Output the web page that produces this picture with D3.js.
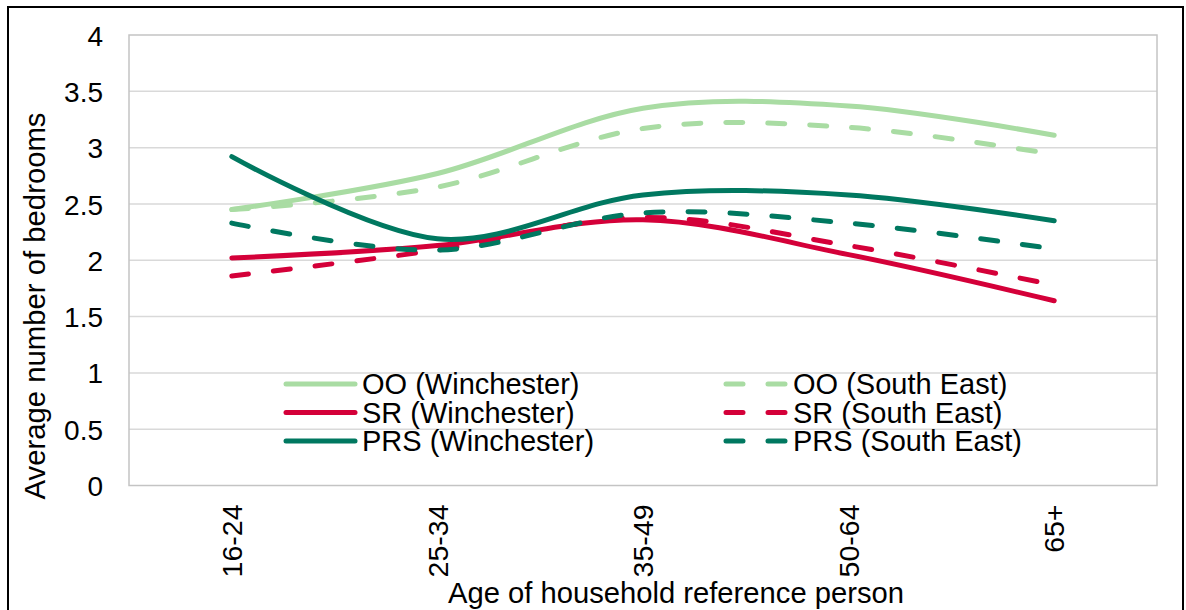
<!DOCTYPE html>
<html>
<head>
<meta charset="utf-8">
<script src="https://cdn.jsdelivr.net/npm/d3@7"></script>
<style>
    body { margin: 0; background: #fff; }
    text { font-family: "Liberation Sans", Arial, sans-serif; fill: #000; }
</style>
</head>
<body>
<div id="chart"></div>
<script>
// bedrooms by age band, Winchester vs South East
var ages = ['16-24', '25-34', '35-49', '50-64', '65+'];
var yTicks = [0, 0.5, 1, 1.5, 2, 2.5, 3, 3.5, 4];

var ooWinchester = [2.45, 2.77, 3.35, 3.37, 3.11];
var ooSouthEast = [2.45, 2.65, 3.17, 3.18, 2.94];
var srWinchester = [2.02, 2.13, 2.36, 2.05, 1.64];
var srSouthEast = [1.86, 2.09, 2.38, 2.13, 1.78];
var prsWinchester = [2.92, 2.19, 2.58, 2.58, 2.35];
var prsSouthEast = [2.33, 2.09, 2.42, 2.33, 2.10];

// excel fills the legend row by row, so this is also the draw order
var series = [
    { name: 'OO (Winchester)', values: ooWinchester, color: '#a9dca3', dashed: false },
    { name: 'OO (South East)', values: ooSouthEast, color: '#a9dca3', dashed: true },
    { name: 'SR (Winchester)', values: srWinchester, color: '#d40039', dashed: false },
    { name: 'SR (South East)', values: srSouthEast, color: '#d40039', dashed: true },
    { name: 'PRS (Winchester)', values: prsWinchester, color: '#007860', dashed: false },
    { name: 'PRS (South East)', values: prsSouthEast, color: '#007860', dashed: true }
];

var width = 1186, height = 610;
var plot = { left: 129, right: 1157, top: 35, bottom: 485.5 };
var dash = '17 25';

var svg = d3.select('#chart').append('svg')
    .attr('width', width)
    .attr('height', height);

// outer chart border, runs off the bottom of the picture
svg.append('rect')
    .attr('x', 8).attr('y', 7)
    .attr('width', 1175).attr('height', 640)
    .attr('fill', 'none')
    .attr('stroke', '#000')
    .attr('stroke-width', 2);

var x = d3.scaleBand().domain(ages).range([plot.left, plot.right]);
var y = d3.scaleLinear().domain([0, 4]).range([plot.bottom, plot.top]);

var grid = svg.append('g').attr('class', 'grid');
grid.selectAll('line').data(yTicks.slice(1, -1)).enter().append('line')
    .attr('x1', plot.left).attr('x2', plot.right)
    .attr('y1', function(d) { return y(d); })
    .attr('y2', function(d) { return y(d); })
    .attr('stroke', '#d9d9d9')
    .attr('stroke-width', 1.5);

svg.append('rect')
    .attr('x', plot.left).attr('y', plot.top)
    .attr('width', plot.right - plot.left)
    .attr('height', plot.bottom - plot.top)
    .attr('fill', 'none')
    .attr('stroke', '#c4c4c4')
    .attr('stroke-width', 1.5);

// y axis labels
var yAxis = svg.append('g')
    .attr('transform', 'translate(' + (plot.left - 26) + ',0)')
    .call(d3.axisLeft(y).tickValues(yTicks).tickFormat(d3.format('~g')).tickSize(0).tickPadding(0));
yAxis.select('.domain').remove();
yAxis.selectAll('text')
    .attr('font-size', 28)
    .attr('font-family', null)
    .attr('dy', '0.36em');

// x axis labels, turned on their side
var xAxis = svg.append('g')
    .attr('transform', 'translate(0,' + (plot.bottom + 19) + ')')
    .call(d3.axisBottom(x).tickSize(0).tickPadding(0));
xAxis.select('.domain').remove();
xAxis.selectAll('text')
    .attr('font-size', 28.5)
    .attr('font-family', null)
    .attr('text-anchor', 'end')
    .attr('transform', 'rotate(-90)')
    .attr('x', 0).attr('y', 0)
    .attr('dy', '0.36em');

svg.append('text')
    .attr('x', 676).attr('y', 603)
    .attr('text-anchor', 'middle')
    .attr('font-size', 29.2)
    .text('Age of household reference person');

svg.append('text')
    .attr('transform', 'translate(45,306) rotate(-90)')
    .attr('text-anchor', 'middle')
    .attr('font-size', 29.3)
    .text('Average number of bedrooms');

var line = d3.line()
    .x(function(d, i) { return x(ages[i]) + x.bandwidth() / 2; })
    .y(function(d) { return y(d); })
    .curve(d3.curveCardinal.tension(0));

svg.append('g').selectAll('path').data(series).enter().append('path')
    .attr('d', function(d) { return line(d.values); })
    .attr('fill', 'none')
    .attr('stroke', function(d) { return d.color; })
    .attr('stroke-width', 5)
    .attr('stroke-linecap', 'round')
    .attr('stroke-linejoin', 'round')
    .attr('stroke-dasharray', function(d) { return d.dashed ? dash : null; });

// legend, two columns
var legend = svg.append('g').selectAll('g').data(series).enter().append('g')
    .attr('transform', function(d, i) {
        var col = i % 2, row = Math.floor(i / 2);
        return 'translate(' + (col ? 726 : 286) + ',' + (384 + row * 28.5) + ')';
    });
legend.append('line')
    .attr('x1', 0)
    .attr('x2', function(d) { return d.dashed ? 60 : 69; })
    .attr('stroke', function(d) { return d.color; })
    .attr('stroke-width', 5)
    .attr('stroke-linecap', 'round')
    .attr('stroke-dasharray', function(d) { return d.dashed ? dash : null; });
legend.append('text')
    .attr('x', function(d) { return d.dashed ? 67 : 76; })
    .attr('dy', '0.36em')
    .attr('font-size', 29)
    .text(function(d) { return d.name; });
</script>
</body>
</html>
